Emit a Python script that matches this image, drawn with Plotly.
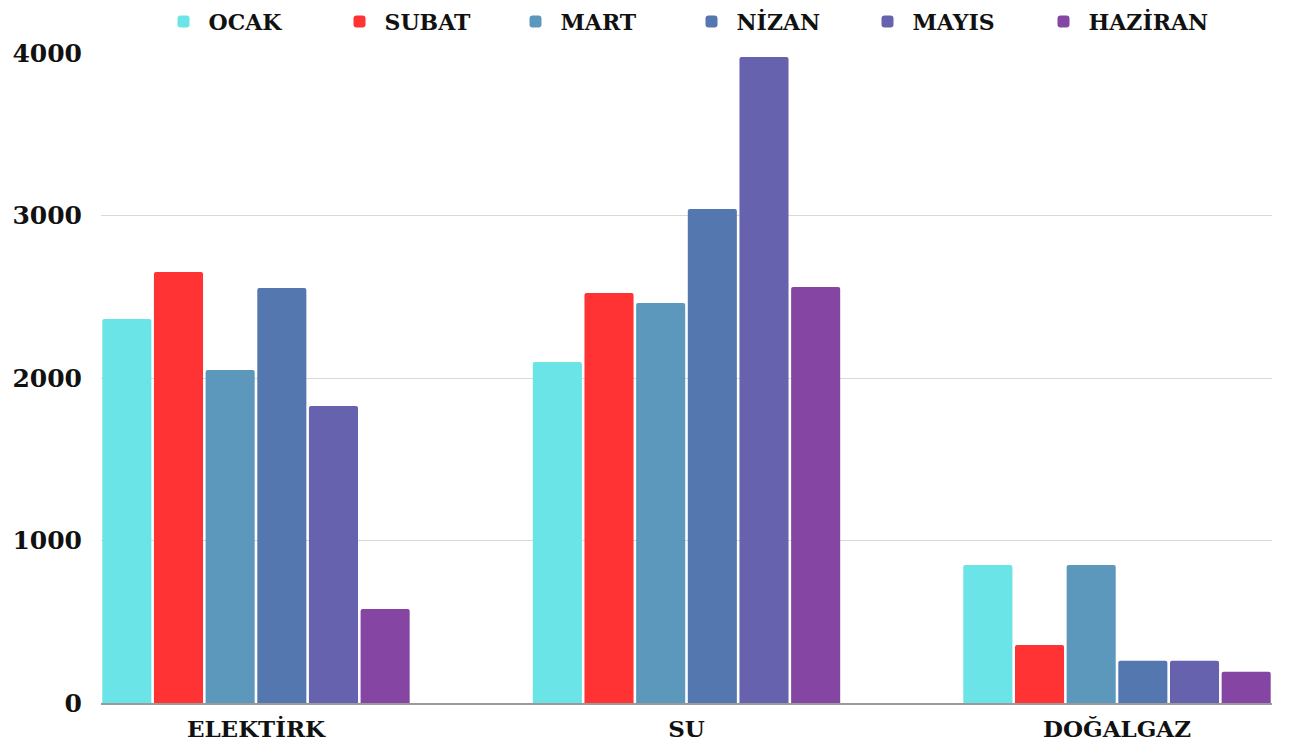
import plotly.graph_objects as go

categories = ["ELEKTİRK", "SU", "DOĞALGAZ"]
months = ["OCAK", "SUBAT", "MART", "NİZAN", "MAYIS", "HAZİRAN"]
ocak = [2363, 2098, 849]
subat = [2652, 2523, 357]
mart = [2049, 2462, 849]
nizan = [2554, 3040, 260]
mayis = [1828, 3975, 260]
haziran = [578, 2560, 193]
series = [ocak, subat, mart, nizan, mayis, haziran]
colors = ["#6ae4e6", "#ff3333", "#5b98bb", "#5577b0", "#6762ae", "#8546a3"]
y_ticks = [0, 1000, 2000, 3000, 4000]

font_family = "DejaVu Serif"

fig = go.Figure()
for name, vals, col in zip(months, series, colors):
    fig.add_trace(go.Bar(
        x=categories, y=vals, name=name,
        marker=dict(color=col, line=dict(width=0), cornerradius=2),
    ))

fig.update_layout(
    width=1290, height=751,
    paper_bgcolor="white", plot_bgcolor="white",
    barmode="group", bargap=0.28, bargroupgap=0.05,
    margin=dict(l=93, r=26, t=45, b=56, autoexpand=False),
    font=dict(family=font_family, size=22, color="#111111", weight="bold"),
    legend=dict(
        orientation="h", x=0.5, xanchor="center", y=1.048, yanchor="middle",
        font=dict(family=font_family, size=22, color="#111111", weight="bold"),
        itemwidth=40, traceorder="normal",
        entrywidth=121, entrywidthmode="pixels",
    ),
    xaxis=dict(
        range=[-0.36, 2.36], showgrid=False, showline=True,
        linecolor="#9a9a9a", linewidth=2, ticks="",
        tickfont=dict(family=font_family, size=23, weight="bold"),
        ticklabelstandoff=4,
    ),
    yaxis=dict(
        range=[0, 4000], tickvals=y_ticks, showgrid=True,
        gridcolor="#d9d9d9", gridwidth=1, zeroline=False,
        tickfont=dict(family=font_family, size=25, weight="bold"),
        ticklabelstandoff=18,
    ),
)

fig.write_html("out.html")
